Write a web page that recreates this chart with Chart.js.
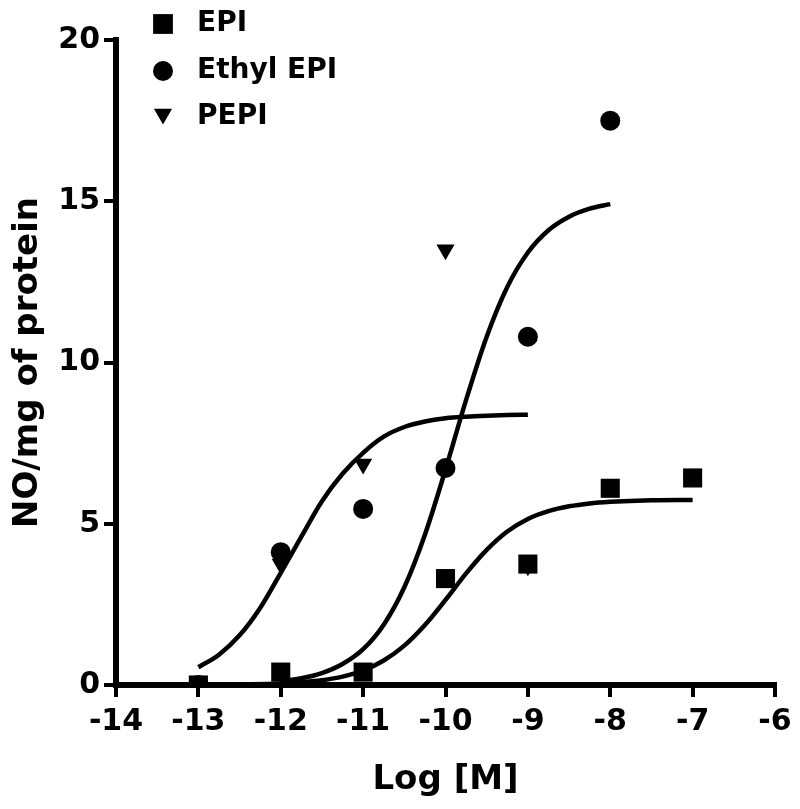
<!DOCTYPE html>
<html>
<head>
<meta charset="utf-8">
<script src="https://cdn.jsdelivr.net/npm/chart.js@4.4.1/dist/chart.umd.min.js"></script>
<style>
  html, body { margin: 0; padding: 0; background: #fff; }
  canvas { display: block; }
</style>
</head>
<body>
<canvas id="chart" width="800" height="809"></canvas>
<script>
// measured points (log molar concentration)
const epiConc = [-13, -12, -11, -10, -9, -8, -7];
const epiValues = [0, 0.4, 0.4, 3.3, 3.75, 6.1, 6.42];

const ethylConc = [-13, -12, -11, -10, -9, -8];
const ethylValues = [0, 4.12, 5.46, 6.73, 10.8, 17.5];

const pepiConc = [-13, -12, -11, -10, -9];
const pepiValues = [0, 3.75, 6.85, 13.5, 3.7];

// fitted curves
const pepiFitX = [-13, -12.75, -12.5, -12.25, -12, -11.75, -11.5, -11.25, -11, -10.75, -10.5, -10.25, -10, -9.75, -9.5, -9.25, -9];
const pepiFitY = [0.55, 0.94, 1.54, 2.39, 3.48, 4.6, 5.7, 6.55, 7.2, 7.7, 8.0, 8.17, 8.27, 8.32, 8.35, 8.37, 8.38];

const ethylFitX = [-12, -11.75, -11.5, -11.25, -11, -10.75, -10.5, -10.25, -10, -9.75, -9.5, -9.25, -9, -8.75, -8.5, -8.25, -8];
const ethylFitY = [0.12, 0.21, 0.37, 0.65, 1.11, 1.87, 3.03, 4.66, 6.68, 8.84, 10.8, 12.34, 13.41, 14.1, 14.52, 14.77, 14.91];

const epiFitX = [-13, -12.5, -12, -11.75, -11.5, -11.25, -11, -10.75, -10.5, -10.25, -10, -9.75, -9.5, -9.25, -9, -8.75, -8.5, -8.25, -8, -7.5, -7];
const epiFitY = [0.0, 0.02, 0.05, 0.09, 0.15, 0.26, 0.45, 0.76, 1.22, 1.86, 2.64, 3.46, 4.19, 4.76, 5.15, 5.39, 5.54, 5.63, 5.68, 5.73, 5.74];

const legendLabels = ["EPI", "Ethyl EPI", "PEPI"];

const toPoints = (xs, ys) => xs.map((x, i) => ({ x: x, y: ys[i] }));

const FONT = "'DejaVu Sans', 'Liberation Sans', Arial, sans-serif";
Chart.defaults.font.family = FONT;
Chart.defaults.font.weight = "bold";
Chart.defaults.color = "#000";

// legend drawn top left, as in the figure
const legendPlugin = {
  id: "figLegend",
  afterDraw(chart) {
    const ctx = chart.ctx;
    const rows = [24, 71, 117];
    const styles = [
      { pointStyle: "rect", radius: 14, rotation: 0, borderWidth: 0 },
      { pointStyle: "circle", radius: 10, rotation: 0, borderWidth: 0 },
      { pointStyle: "triangle", radius: 10.5, rotation: 180, borderWidth: 0 },
    ];
    ctx.save();
    ctx.fillStyle = "#000";
    ctx.strokeStyle = "#000";
    legendLabels.forEach((label, i) => {
      const dy = i === 2 ? -3 : 0;
      Chart.helpers.drawPoint(ctx, styles[i], 163, rows[i] + dy);
      ctx.font = "bold 28px " + FONT;
      ctx.textAlign = "left";
      ctx.textBaseline = "middle";
      ctx.fillText(label, 197, rows[i]);
    });
    ctx.restore();
  },
};

const ctx = document.getElementById("chart").getContext("2d");
new Chart(ctx, {
  type: "scatter",
  data: {
    datasets: [
      {
        label: "EPI",
        data: toPoints(epiConc, epiValues),
        pointStyle: "rect",
        pointRadius: 13.5,
        backgroundColor: "#000",
        borderWidth: 0,
      },
      {
        label: "Ethyl EPI",
        data: toPoints(ethylConc, ethylValues),
        pointStyle: "circle",
        pointRadius: 10,
        backgroundColor: "#000",
        borderWidth: 0,
      },
      {
        label: "PEPI",
        data: toPoints(pepiConc, pepiValues),
        pointStyle: "triangle",
        rotation: 180,
        pointRadius: 10.5,
        backgroundColor: "#000",
        borderWidth: 0,
      },
      {
        label: "PEPI fit",
        data: toPoints(pepiFitX, pepiFitY),
        showLine: true,
        pointRadius: 0,
        borderColor: "#000",
        borderWidth: 4.5,
        cubicInterpolationMode: "monotone",
      },
      {
        label: "Ethyl EPI fit",
        data: toPoints(ethylFitX, ethylFitY),
        showLine: true,
        pointRadius: 0,
        borderColor: "#000",
        borderWidth: 4.5,
        cubicInterpolationMode: "monotone",
      },
      {
        label: "EPI fit",
        data: toPoints(epiFitX, epiFitY),
        showLine: true,
        pointRadius: 0,
        borderColor: "#000",
        borderWidth: 4.5,
        cubicInterpolationMode: "monotone",
      },
    ],
  },
  options: {
    responsive: false,
    animation: false,
    layout: { padding: { top: 40, right: 25, left: 0, bottom: 0 } },
    plugins: {
      legend: { display: false },
      tooltip: { enabled: false },
    },
    scales: {
      x: {
        type: "linear",
        min: -14,
        max: -6,
        afterFit: (scale) => { scale.height = 124; },
        ticks: {
          stepSize: 1,
          padding: 7,
          font: { size: 30, weight: "bold" },
          color: "#000",
        },
        grid: {
          drawOnChartArea: false,
          drawTicks: true,
          tickLength: 12,
          color: "#000",
          lineWidth: 4,
        },
        border: { display: true, color: "#000", width: 6 },
        title: {
          display: true,
          text: "Log [M]",
          font: { size: 34, weight: "bold" },
          color: "#000",
          padding: { top: 0, bottom: 8 },
        },
      },
      y: {
        min: 0,
        max: 20,
        afterFit: (scale) => { scale.width = 116; },
        ticks: {
          stepSize: 5,
          padding: 4,
          font: { size: 30, weight: "bold" },
          color: "#000",
        },
        grid: {
          drawOnChartArea: false,
          drawTicks: true,
          tickLength: 12,
          color: "#000",
          lineWidth: 4,
        },
        border: { display: true, color: "#000", width: 6 },
        title: {
          display: true,
          text: "NO/mg of protein",
          font: { size: 34, weight: "bold" },
          color: "#000",
          padding: { top: 8, bottom: 0 },
        },
      },
    },
  },
  plugins: [legendPlugin],
});
</script>
</body>
</html>
